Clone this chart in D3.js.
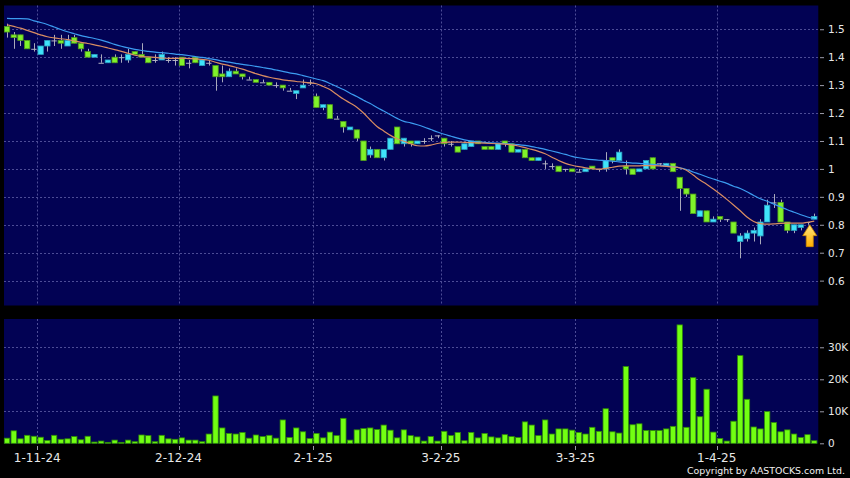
<!DOCTYPE html>
<html><head><meta charset="utf-8">
<script src="https://cdn.jsdelivr.net/npm/d3@7"></script>
<style>html,body{margin:0;padding:0;background:#000;}svg{display:block;}</style>
</head><body>
<svg id="chart" width="850" height="478"></svg>
<script>
const dates = [
"25-10-24","28-10-24","29-10-24","30-10-24","31-10-24",
"1-11-24","4-11-24","5-11-24","6-11-24","7-11-24","8-11-24","11-11-24","12-11-24","13-11-24","14-11-24","15-11-24","18-11-24","19-11-24","20-11-24","21-11-24","22-11-24","25-11-24","26-11-24","27-11-24","28-11-24","29-11-24",
"2-12-24","3-12-24","4-12-24","5-12-24","6-12-24","9-12-24","10-12-24","11-12-24","12-12-24","13-12-24","16-12-24","17-12-24","18-12-24","19-12-24","20-12-24","23-12-24","24-12-24","27-12-24","30-12-24","31-12-24",
"2-1-25","3-1-25","6-1-25","7-1-25","8-1-25","9-1-25","10-1-25","13-1-25","14-1-25","15-1-25","16-1-25","17-1-25","20-1-25","21-1-25","22-1-25","23-1-25","24-1-25","27-1-25","28-1-25",
"3-2-25","4-2-25","5-2-25","6-2-25","7-2-25","10-2-25","11-2-25","12-2-25","13-2-25","14-2-25","17-2-25","18-2-25","19-2-25","20-2-25","21-2-25","24-2-25","25-2-25","26-2-25","27-2-25","28-2-25",
"3-3-25","4-3-25","5-3-25","6-3-25","7-3-25","10-3-25","11-3-25","12-3-25","13-3-25","14-3-25","17-3-25","18-3-25","19-3-25","20-3-25","21-3-25","24-3-25","25-3-25","26-3-25","27-3-25","28-3-25","31-3-25",
"1-4-25","2-4-25","3-4-25","7-4-25","8-4-25","9-4-25","10-4-25","11-4-25","14-4-25","15-4-25","16-4-25","17-4-25","22-4-25","23-4-25","24-4-25"
];
const openP = [
1.51,1.48,1.48,1.46,1.43,1.41,1.44,1.46,1.46,1.44,
1.47,1.45,1.42,1.40,1.38,1.38,1.40,1.40,1.39,1.42,
1.41,1.40,1.39,1.39,1.39,1.39,1.40,1.38,1.40,1.37,
1.38,1.37,1.34,1.33,1.35,1.34,1.32,1.32,1.31,1.31,
1.30,1.30,1.28,1.27,1.29,1.31,1.26,1.22,1.23,1.18,
1.17,1.14,1.14,1.10,1.05,1.07,1.04,1.07,1.15,1.09,
1.10,1.09,1.10,1.11,1.12,1.11,1.09,1.08,1.07,1.08,
1.10,1.08,1.08,1.07,1.10,1.09,1.06,1.07,1.04,1.03,
1.02,1.01,1.01,1.00,1.00,0.99,0.99,1.01,1.00,1.00,
1.04,1.03,1.01,1.00,0.99,1.00,1.04,1.02,1.01,1.02,
0.97,0.93,0.91,0.83,0.85,0.81,0.83,0.82,0.81,0.74,
0.75,0.77,0.76,0.81,0.88,0.88,0.81,0.78,0.79,0.81,
0.82];
const highP = [
1.52,1.49,1.48,1.46,1.45,1.44,1.46,1.48,1.48,1.48,
1.48,1.45,1.43,1.41,1.41,1.39,1.41,1.41,1.43,1.42,
1.45,1.40,1.41,1.42,1.40,1.40,1.40,1.39,1.40,1.39,
1.39,1.37,1.37,1.36,1.36,1.34,1.33,1.32,1.32,1.31,
1.31,1.30,1.29,1.28,1.32,1.32,1.27,1.23,1.23,1.19,
1.17,1.15,1.14,1.10,1.08,1.07,1.07,1.11,1.15,1.11,
1.10,1.10,1.11,1.12,1.12,1.11,1.10,1.08,1.09,1.10,
1.10,1.08,1.08,1.09,1.10,1.09,1.07,1.07,1.04,1.04,
1.03,1.02,1.01,1.00,1.00,1.00,1.00,1.01,1.00,1.06,
1.04,1.07,1.03,1.00,1.00,1.03,1.04,1.02,1.02,1.02,
0.97,0.93,0.91,0.85,0.85,0.83,0.83,0.82,0.81,0.77,
0.78,0.79,0.82,0.89,0.91,0.89,0.81,0.80,0.80,0.81,
0.84];
const lowP = [
1.47,1.43,1.44,1.43,1.42,1.41,1.42,1.44,1.43,1.44,
1.45,1.42,1.40,1.40,1.38,1.38,1.38,1.38,1.38,1.41,
1.40,1.38,1.38,1.39,1.38,1.37,1.37,1.36,1.38,1.37,
1.37,1.28,1.31,1.33,1.34,1.32,1.32,1.31,1.31,1.30,
1.29,1.28,1.28,1.25,1.29,1.30,1.22,1.21,1.18,1.18,
1.13,1.14,1.10,1.03,1.04,1.04,1.03,1.07,1.09,1.08,
1.08,1.09,1.09,1.10,1.11,1.08,1.08,1.06,1.07,1.08,
1.09,1.07,1.07,1.07,1.08,1.06,1.06,1.04,1.03,1.03,
1.00,1.00,0.99,0.99,0.99,0.99,0.99,1.00,0.99,0.99,
1.02,1.03,0.98,0.98,0.99,1.00,1.00,1.01,1.01,0.99,
0.85,0.90,0.84,0.83,0.81,0.81,0.81,0.81,0.77,0.68,
0.74,0.74,0.73,0.81,0.86,0.81,0.77,0.77,0.78,0.80,
0.82];
const closeP = [
1.49,1.47,1.46,1.43,1.43,1.44,1.46,1.46,1.45,1.46,
1.45,1.43,1.40,1.41,1.38,1.39,1.38,1.40,1.41,1.41,
1.40,1.38,1.39,1.41,1.39,1.39,1.37,1.38,1.38,1.39,
1.38,1.33,1.33,1.35,1.34,1.33,1.32,1.31,1.31,1.30,
1.30,1.29,1.28,1.28,1.30,1.31,1.22,1.23,1.18,1.18,
1.15,1.15,1.11,1.03,1.07,1.04,1.07,1.11,1.09,1.11,
1.09,1.10,1.10,1.11,1.12,1.09,1.09,1.06,1.09,1.10,
1.09,1.07,1.07,1.09,1.09,1.06,1.07,1.04,1.03,1.04,
1.02,1.01,0.99,1.00,0.99,0.99,1.00,1.00,1.00,1.03,
1.03,1.06,1.00,0.98,1.00,1.03,1.00,1.02,1.02,0.99,
0.93,0.91,0.84,0.85,0.81,0.82,0.82,0.82,0.77,0.76,
0.77,0.78,0.81,0.87,0.88,0.81,0.78,0.80,0.80,0.81,
0.83];
const volume = [
1600,3900,1400,2500,2200,1900,900,2500,1250,1400,
2100,1100,2200,400,700,300,1000,300,1000,500,
2600,2400,500,2500,1400,1250,1700,1000,1000,500,
2900,14800,4800,3100,2900,3400,1600,2600,2100,2500,
1600,7300,1800,4800,3600,1500,3100,1700,3500,2400,
7800,1000,4200,4600,4800,4300,5700,4100,1700,4200,
2400,2000,700,2100,700,3750,2400,3400,800,3400,
1700,3100,2000,1700,2700,2100,1800,6700,5700,2400,
7300,2900,4500,4500,4100,3400,2900,5000,3750,10800,
3600,3200,24000,5800,6100,4000,4000,4000,4500,5300,
37000,5000,20500,8300,16900,3500,1500,700,6900,27400,
13750,5100,4500,9900,6500,3600,4200,2900,1800,2700,
800];
const ma10 = [
1.516,1.510,1.504,1.496,1.488,1.480,1.473,1.469,1.466,1.463,
1.458,1.453,1.449,1.444,1.439,1.433,1.427,1.421,1.414,1.407,
1.403,1.401,1.399,1.397,1.396,1.396,1.396,1.395,1.394,1.392,
1.389,1.382,1.375,1.370,1.364,1.357,1.349,1.341,1.334,1.328,
1.323,1.319,1.316,1.313,1.311,1.308,1.305,1.295,1.284,1.267,
1.250,1.236,1.221,1.200,1.175,1.152,1.136,1.120,1.108,1.099,
1.090,1.083,1.082,1.085,1.091,1.095,1.096,1.096,1.095,1.094,
1.093,1.092,1.091,1.090,1.089,1.086,1.082,1.076,1.070,1.063,
1.054,1.042,1.030,1.020,1.013,1.008,1.004,1.001,0.999,1.002,
1.006,1.010,1.011,1.011,1.011,1.012,1.012,1.011,1.009,1.007,
1.004,0.995,0.978,0.960,0.945,0.928,0.910,0.891,0.871,0.850,
0.828,0.812,0.804,0.802,0.803,0.805,0.806,0.806,0.806,0.809,
0.813];
const ma20 = [
1.539,1.538,1.538,1.537,1.530,1.524,1.517,1.508,1.499,1.491,
1.484,1.477,1.472,1.467,1.461,1.454,1.446,1.439,1.433,1.428,
1.424,1.421,1.418,1.416,1.414,1.411,1.409,1.406,1.402,1.399,
1.395,1.391,1.386,1.382,1.378,1.374,1.371,1.367,1.363,1.359,
1.354,1.349,1.344,1.340,1.334,1.328,1.322,1.316,1.306,1.295,
1.284,1.271,1.259,1.246,1.234,1.220,1.207,1.194,1.181,1.170,
1.165,1.158,1.150,1.141,1.132,1.124,1.117,1.110,1.104,1.100,
1.097,1.095,1.093,1.092,1.091,1.089,1.087,1.084,1.080,1.075,
1.070,1.064,1.058,1.052,1.045,1.040,1.036,1.033,1.031,1.030,
1.028,1.025,1.023,1.021,1.020,1.018,1.016,1.014,1.011,1.008,
1.004,0.998,0.989,0.981,0.972,0.964,0.956,0.948,0.938,0.930,
0.918,0.905,0.893,0.884,0.874,0.864,0.854,0.845,0.836,0.828,
0.822];
const priceTicks = [0.6,0.7,0.8,0.9,1.0,1.1,1.2,1.3,1.4,1.5];
const volumeTicks = [0,10000,20000,30000];
const dateTicks = ["1-11-24","2-12-24","2-1-25","3-2-25","3-3-25","1-4-25"];

const svg = d3.select("#chart");
const panelL = 4, panelR = 818.3;
const pTop = 5.5, pBot = 305.5, vTop = 319, vBot = 443.5;
const gridColor = "#4c4c96";

const x = d3.scaleBand().domain(dates).range([3.64, 3.64 + dates.length * 6.727]).padding(0);
const bw = x.bandwidth();
const cx = d => x(d) + bw / 2;
const y = d3.scaleLinear().domain([0.511, 1.585]).range([pBot, pTop]);
const yv = d3.scaleLinear().domain([0, 38840]).range([443.3, vTop]);

svg.append("rect").attr("width", 850).attr("height", 478).attr("fill", "#000");
svg.append("rect").attr("x", panelL).attr("y", pTop).attr("width", panelR - panelL).attr("height", pBot - pTop).attr("fill", "#020254");
svg.append("rect").attr("x", panelL).attr("y", vTop).attr("width", panelR - panelL).attr("height", vBot - vTop).attr("fill", "#020254");

const defs = svg.append("defs");
defs.append("clipPath").attr("id", "pclip").append("rect").attr("x", panelL).attr("y", pTop).attr("width", panelR - panelL).attr("height", pBot - pTop);
const grad = defs.append("linearGradient").attr("id", "arrowGrad").attr("x1", 0).attr("x2", 0).attr("y1", 0).attr("y2", 1);
grad.append("stop").attr("offset", "0%").attr("stop-color", "#ffe680");
grad.append("stop").attr("offset", "100%").attr("stop-color", "#ffae00");

// grids
const grid = svg.append("g").attr("stroke", gridColor).attr("stroke-width", 1).attr("stroke-dasharray", "2,2").attr("fill", "none");
grid.selectAll(".hp").data(priceTicks).join("line")
  .attr("x1", panelL).attr("x2", panelR).attr("y1", d => Math.round(y(d)) + 0.5).attr("y2", d => Math.round(y(d)) + 0.5);
grid.selectAll(".hv").data(volumeTicks.slice(1)).join("line")
  .attr("x1", panelL).attr("x2", panelR).attr("y1", d => Math.round(yv(d)) + 0.5).attr("y2", d => Math.round(yv(d)) + 0.5);
grid.selectAll(".vp").data(dateTicks).join("line")
  .attr("x1", d => Math.round(x(d)) + 0.5).attr("x2", d => Math.round(x(d)) + 0.5).attr("y1", pTop).attr("y2", pBot);
grid.selectAll(".vv").data(dateTicks).join("line")
  .attr("x1", d => Math.round(x(d)) + 0.5).attr("x2", d => Math.round(x(d)) + 0.5).attr("y1", vTop).attr("y2", vBot);

// candles
const idx = d3.range(dates.length);
const cw = bw * 0.8;
const cg = svg.append("g").attr("clip-path", "url(#pclip)");
cg.selectAll(".wick").data(idx).join("line")
  .attr("x1", i => Math.round(cx(dates[i])) + 0.5).attr("x2", i => Math.round(cx(dates[i])) + 0.5)
  .attr("y1", i => y(highP[i])).attr("y2", i => y(lowP[i]))
  .attr("stroke", "#a9a9bb").attr("stroke-width", 1);
cg.selectAll(".body").data(idx).join("rect")
  .attr("x", i => cx(dates[i]) - cw / 2)
  .attr("y", i => y(Math.max(openP[i], closeP[i])))
  .attr("width", cw)
  .attr("height", i => Math.max(1, Math.abs(y(openP[i]) - y(closeP[i]))))
  .attr("fill", i => closeP[i] > openP[i] ? "#3fe3fa" : closeP[i] < openP[i] ? "#80f22a" : "#b4b4c4")
  .attr("stroke", i => closeP[i] > openP[i] ? "#2a9fc0" : closeP[i] < openP[i] ? "#4f9a1c" : "none")
  .attr("stroke-width", 0.8);

// moving averages
const line = arr => d3.line().x((v, i) => cx(dates[i])).y(v => y(v)).curve(d3.curveMonotoneX)(arr);
cg.append("path").attr("d", line(ma20)).attr("fill", "none").attr("stroke", "#3c9cf0").attr("stroke-width", 1.2);
cg.append("path").attr("d", line(ma10)).attr("fill", "none").attr("stroke", "#d98d62").attr("stroke-width", 1.2);

// arrow marker at the last candle
const last = dates.length - 1;
const ax = cx(dates[last]) - 4.5, ay = y(ma10[last]) + 3.5;
svg.append("path")
  .attr("d", `M${ax},${ay} L${ax + 7},${ay + 11} L${ax + 3.5},${ay + 11} L${ax + 3.5},${ay + 22} L${ax - 3.5},${ay + 22} L${ax - 3.5},${ay + 11} L${ax - 7},${ay + 11} Z`)
  .attr("fill", "url(#arrowGrad)").attr("stroke", "#d08a00").attr("stroke-width", 0.8);

// volume bars
svg.append("g").selectAll("rect").data(idx).join("rect")
  .attr("x", i => cx(dates[i]) - cw / 2)
  .attr("y", i => yv(volume[i]))
  .attr("width", cw)
  .attr("height", i => yv(0) - yv(volume[i]))
  .attr("fill", "#72ff12").attr("stroke", "#2f8a08").attr("stroke-width", 0.8);

// right axes
const fmtP = d3.format("~g");
const pAxis = svg.append("g").attr("transform", "translate(820,0)")
  .call(d3.axisRight(y).tickValues(priceTicks).tickSize(4).tickPadding(4).tickFormat(d => fmtP(d)));
const vAxis = svg.append("g").attr("transform", "translate(820,0)")
  .call(d3.axisRight(yv).tickValues(volumeTicks).tickSize(4).tickPadding(4).tickFormat(d => d === 0 ? "0" : (d / 1000) + "K"));
[pAxis, vAxis].forEach(g => {
  g.select(".domain").remove();
  g.selectAll(".tick line").attr("stroke", "#9a9aa8");
  g.selectAll(".tick text").attr("fill", "#e8e8e8").attr("font-family", "DejaVu Sans, sans-serif").attr("font-size", "10.5px");
});

// date axis (ticks at the first trading day of each month)
const dAxis = svg.append("g");
dAxis.selectAll("line").data(dateTicks).join("line")
  .attr("x1", d => Math.round(x(d)) + 0.5).attr("x2", d => Math.round(x(d)) + 0.5)
  .attr("y1", 446).attr("y2", 450).attr("stroke", "#9a9aa8");
dAxis.selectAll("text").data(dateTicks).join("text")
  .attr("x", d => x(d)).attr("y", 461.5).attr("text-anchor", "middle")
  .attr("fill", "#e8e8e8").attr("font-family", "DejaVu Sans, sans-serif").attr("font-size", "12px")
  .text(d => d);

svg.append("text").attr("x", 687).attr("y", 474).attr("text-anchor", "start")
  .attr("fill", "#f0f0f0").attr("font-family", "DejaVu Sans, sans-serif").attr("font-size", "9.4px")
  .text("Copyright by AASTOCKS.com Ltd.");
</script>
</body></html>
